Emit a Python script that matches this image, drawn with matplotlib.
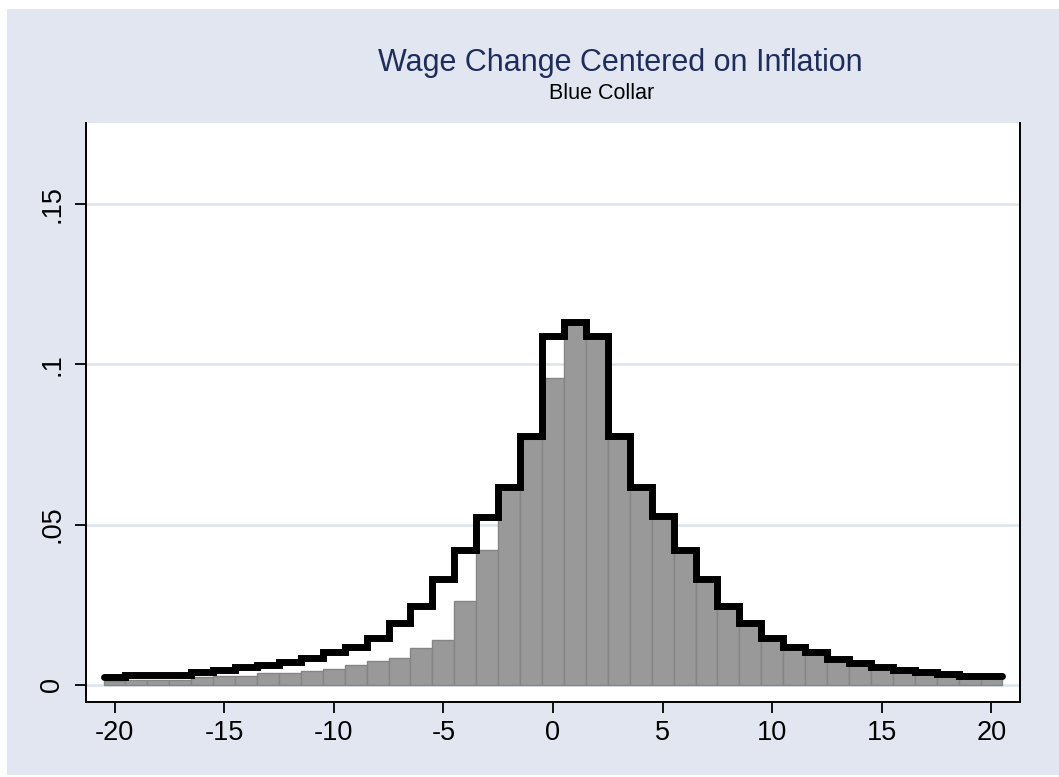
import matplotlib
matplotlib.use("Agg")
import matplotlib.pyplot as plt
import numpy as np
from matplotlib.patches import Rectangle

plt.rcParams['font.family'] = ['Liberation Sans', 'DejaVu Sans']

# Data
bin_centers = list(range(-20, 21))
observed = [0.0012, 0.0017, 0.0017, 0.0017, 0.0024, 0.0029, 0.0029, 0.0036, 0.0036, 0.0043,
            0.0050, 0.0062, 0.0075, 0.0083, 0.0115, 0.0141, 0.0262, 0.0421, 0.0612, 0.0768,
            0.0958, 0.1131, 0.1089, 0.0775, 0.0618, 0.0527, 0.0421, 0.0330, 0.0245, 0.0193,
            0.0145, 0.0120, 0.0102, 0.0081, 0.0068, 0.0055, 0.0048, 0.0041, 0.0034, 0.0029,
            0.0029]
symmetric = [0.0024, 0.0032, 0.0032, 0.0032, 0.0040, 0.0048, 0.0055, 0.0062, 0.0073, 0.0083,
             0.0102, 0.0120, 0.0146, 0.0193, 0.0246, 0.0329, 0.0421, 0.0525, 0.0618, 0.0775,
             0.1089, 0.1131, 0.1089, 0.0775, 0.0618, 0.0527, 0.0421, 0.0330, 0.0245, 0.0193,
             0.0145, 0.0120, 0.0102, 0.0081, 0.0068, 0.0055, 0.0048, 0.0041, 0.0034, 0.0029,
             0.0029]
xticks = [-20, -15, -10, -5, 0, 5, 10, 15, 20]
yticks = [0, 0.05, 0.10, 0.15]
ytick_labels = ["0", ".05", ".1", ".15"]
title = "Wage Change Centered on Inflation"
subtitle = "Blue Collar"

W, H = 1059, 777
BG = "#E1E6F0"
fig = plt.figure(figsize=(W / 100, H / 100), dpi=100)
fig.patch.set_facecolor("white")
fig.add_artist(Rectangle((7 / W, 2 / H), (W - 7) / W, (H - 11) / H,
                         transform=fig.transFigure, facecolor=BG, edgecolor="none", zorder=-10))

left, right, top, bottom = 86, 1020, 123, 702
ax = fig.add_axes([left / W, (H - bottom) / H, (right - left) / W, (bottom - top) / H])
ax.set_facecolor("white")

for yv in yticks:
    ax.axhline(yv, color="#DDE2EE", lw=1.8, zorder=0.5)

ax.bar(bin_centers, observed, width=1.0, color="#999999", edgecolor="#858585",
       linewidth=1.0, zorder=2)
edges = np.arange(-20.5, 21.0, 1.0)
sp = ax.stairs(symmetric, edges, baseline=None, color="black", linewidth=5.0, zorder=3)
sp.set_capstyle("round")
sp.set_joinstyle("miter")

ax.set_xlim(-21.3, 21.3)
ax.set_ylim(-0.0053, 0.1752)
ax.set_xticks(xticks)
ax.set_xticklabels([str(x) for x in xticks])
ax.set_yticks(yticks)
ax.set_yticklabels(ytick_labels, rotation=90, va="center")
ax.tick_params(axis="both", direction="out", length=8, width=1.3, labelsize=19.5,
               colors="black", pad=5)
ax.tick_params(axis="y", pad=7)

for s in ["left", "right", "bottom"]:
    ax.spines[s].set_color("black")
    ax.spines[s].set_linewidth(1.4)
ax.spines["top"].set_visible(False)

fig.text(620 / W, 1 - 71 / H, title, ha="center", va="baseline", fontsize=22,
         color="#1E2D5C")
fig.text(602 / W, 1 - 99 / H, subtitle, ha="center", va="baseline", fontsize=15.5,
         color="black")

fig.savefig("out.png", dpi=100, facecolor=fig.get_facecolor())
